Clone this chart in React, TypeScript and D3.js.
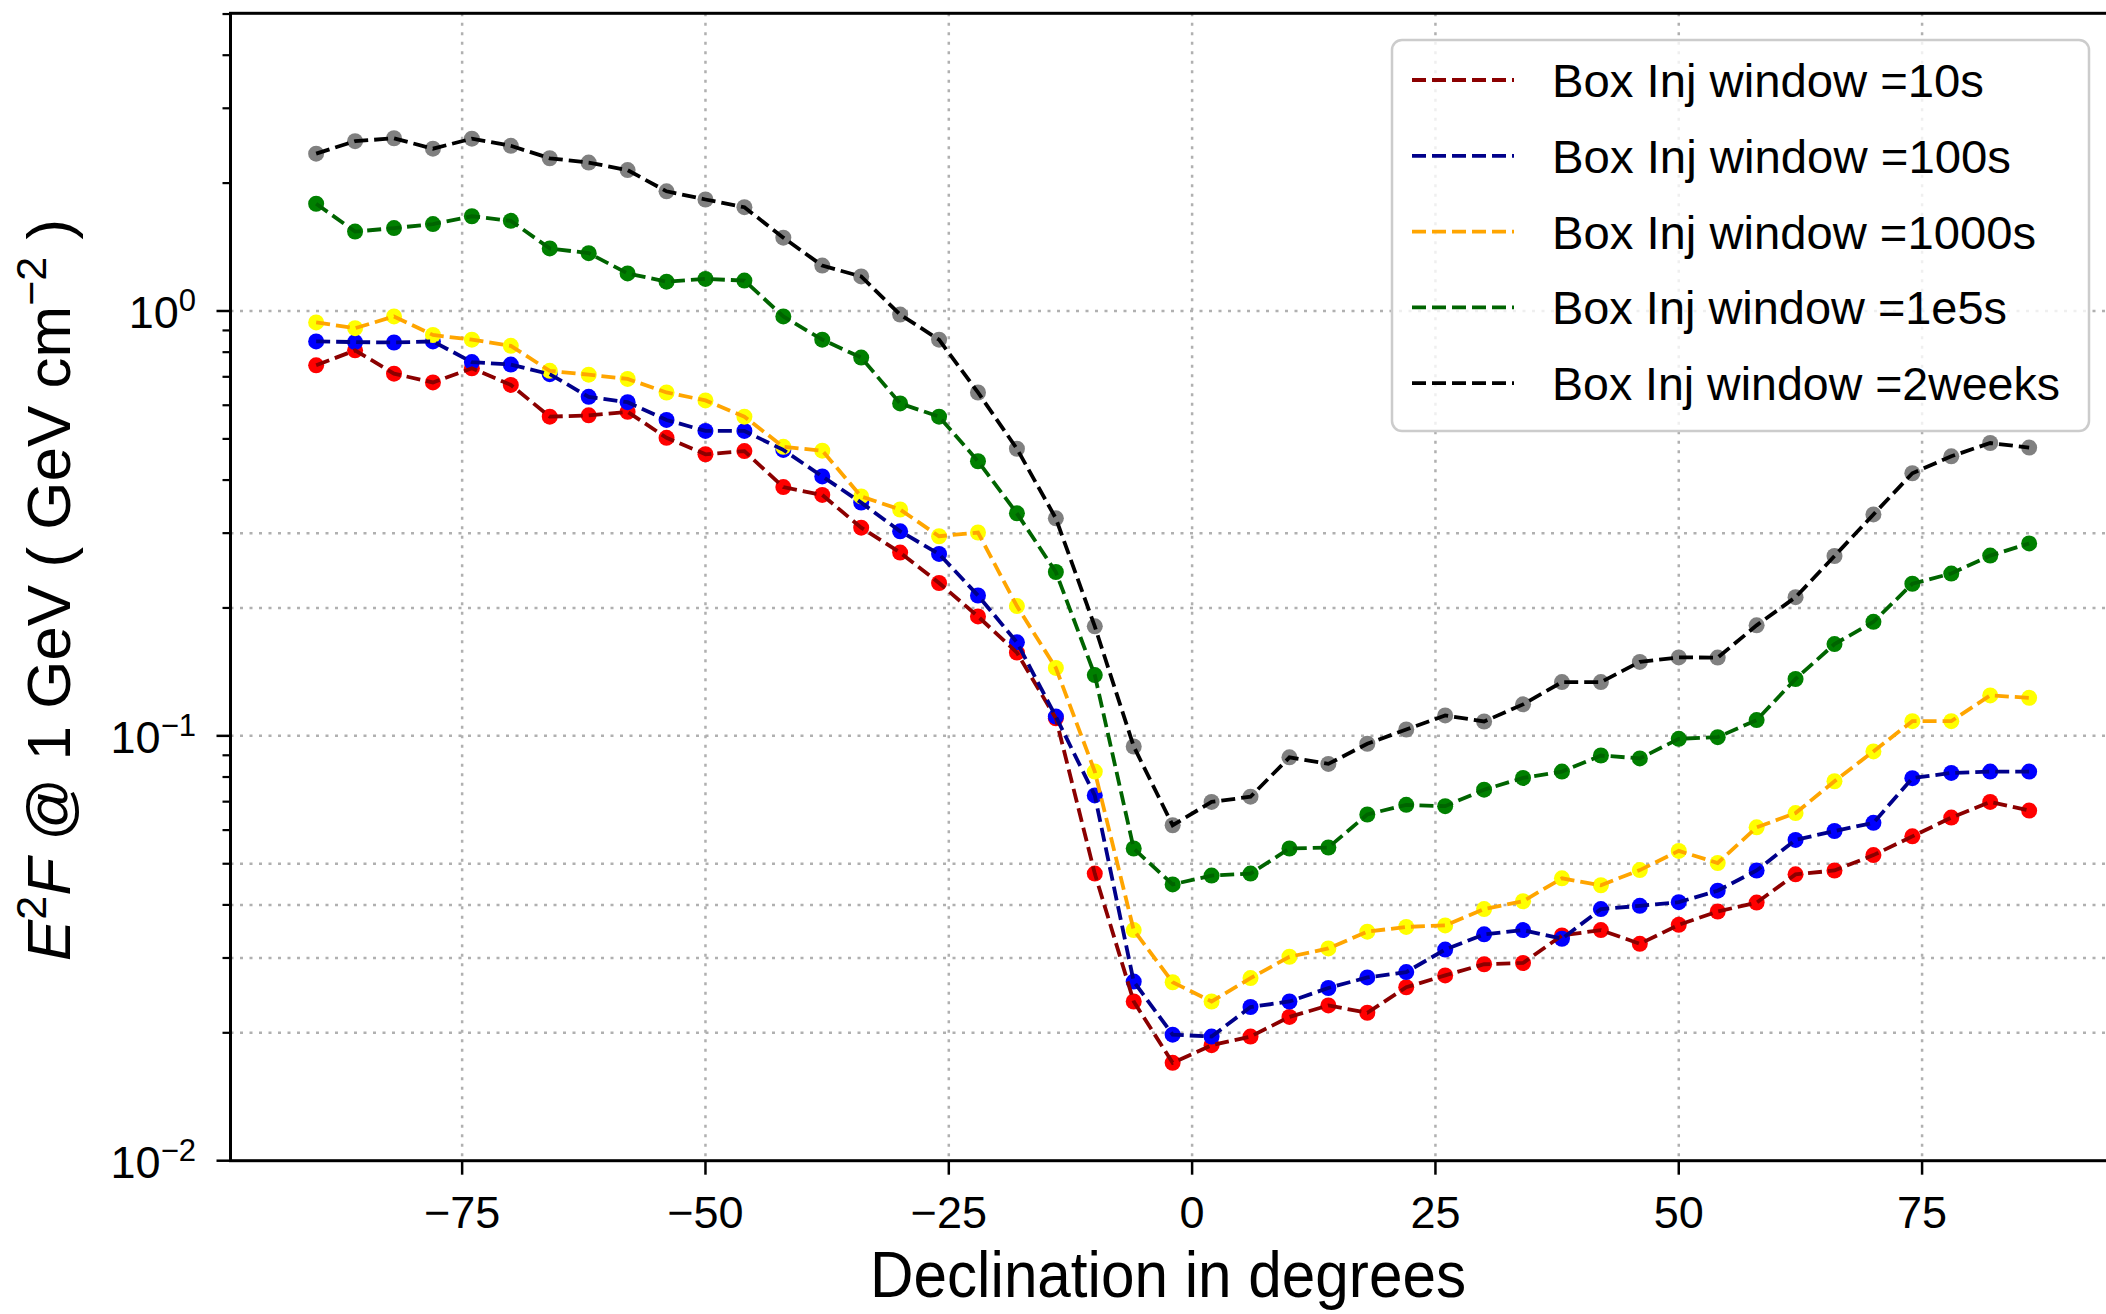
import React from 'react';
import * as d3 from 'd3';

const declination = [-90, -86, -82, -78, -74, -70, -66, -62, -58, -54, -50, -46, -42, -38, -34, -30, -26, -22, -18, -14, -10, -6, -2, 2, 6, 10, 14, 18, 22, 26, 30, 34, 38, 42, 46, 50, 54, 58, 62, 66, 70, 74, 78, 82, 86];

const flux10s = [0.745, 0.808, 0.712, 0.679, 0.733, 0.670, 0.564, 0.568, 0.579, 0.503, 0.460, 0.468, 0.385, 0.369, 0.309, 0.270, 0.229, 0.191, 0.157, 0.110, 0.0474, 0.0237, 0.0170, 0.0187, 0.0196, 0.0218, 0.0232, 0.0223, 0.0256, 0.0273, 0.0290, 0.0292, 0.0339, 0.0349, 0.0324, 0.0359, 0.0386, 0.0405, 0.0472, 0.0482, 0.0524, 0.0580, 0.0642, 0.0699, 0.0667];
const flux100s = [0.848, 0.845, 0.843, 0.848, 0.758, 0.748, 0.710, 0.628, 0.610, 0.554, 0.522, 0.522, 0.471, 0.408, 0.354, 0.303, 0.268, 0.214, 0.166, 0.111, 0.0724, 0.0264, 0.0198, 0.0196, 0.0230, 0.0237, 0.0255, 0.0270, 0.0278, 0.0314, 0.0341, 0.0349, 0.0333, 0.0391, 0.0398, 0.0406, 0.0432, 0.0482, 0.0569, 0.0597, 0.0624, 0.0795, 0.0818, 0.0824, 0.0824];
const flux1000s = [0.940, 0.911, 0.971, 0.878, 0.856, 0.828, 0.723, 0.708, 0.692, 0.643, 0.616, 0.564, 0.479, 0.469, 0.366, 0.341, 0.295, 0.301, 0.202, 0.1445, 0.0824, 0.0349, 0.0263, 0.0237, 0.0269, 0.0302, 0.0316, 0.0346, 0.0355, 0.0358, 0.0391, 0.0408, 0.0462, 0.0445, 0.0483, 0.0536, 0.0502, 0.0609, 0.0658, 0.0782, 0.0919, 0.1083, 0.1083, 0.1245, 0.1229];
const flux1e5s = [1.788, 1.538, 1.567, 1.602, 1.671, 1.630, 1.404, 1.368, 1.226, 1.172, 1.190, 1.179, 0.971, 0.856, 0.777, 0.606, 0.564, 0.443, 0.334, 0.243, 0.139, 0.0543, 0.0447, 0.0469, 0.0474, 0.0543, 0.0546, 0.0653, 0.0688, 0.0683, 0.0747, 0.0796, 0.0824, 0.0899, 0.0885, 0.0984, 0.0993, 0.1089, 0.1361, 0.1644, 0.1855, 0.228, 0.241, 0.2656, 0.2837];
const flux2weeks = [2.346, 2.51, 2.55, 2.41, 2.545, 2.448, 2.288, 2.235, 2.146, 1.913, 1.83, 1.755, 1.488, 1.279, 1.206, 0.981, 0.856, 0.643, 0.474, 0.325, 0.181, 0.0944, 0.0616, 0.0699, 0.0719, 0.089, 0.0859, 0.0958, 0.1035, 0.1117, 0.1081, 0.1186, 0.1338, 0.1338, 0.1493, 0.153, 0.1528, 0.182, 0.212, 0.265, 0.332, 0.415, 0.455, 0.489, 0.477];

const seriesLabels = ['Box Inj window =10s', 'Box Inj window =100s', 'Box Inj window =1000s', 'Box Inj window =1e5s', 'Box Inj window =2weeks'];
const xTicks = [-75, -50, -25, 0, 25, 50, 75];
const yMajorTicks = [0.01, 0.1, 1];
const yMajorExponents = ['\u22122', '\u22121', '0'];
const yMinorTicks = [0.02, 0.03, 0.04, 0.05, 0.06, 0.07, 0.08, 0.09, 0.2, 0.3, 0.4, 0.5, 0.6, 0.7, 0.8, 0.9, 2, 3, 4, 5];
const yMinorGrid = [0.02, 0.03, 0.04, 0.05, 0.2, 0.3];

const series = [
  { values: flux10s, line: '#8b0000', marker: '#ff0000', label: seriesLabels[0], tl: 432 },
  { values: flux100s, line: '#00008b', marker: '#0000ff', label: seriesLabels[1], tl: 459 },
  { values: flux1000s, line: '#ffa500', marker: '#ffff00', label: seriesLabels[2], tl: 484 },
  { values: flux1e5s, line: '#006400', marker: '#008000', label: seriesLabels[3], tl: 455 },
  { values: flux2weeks, line: '#000000', marker: '#808080', label: seriesLabels[4], tl: 508 },
];

const W = 2106;
const H = 1314;
const L = 230.5;
const R = 2114.8;
const T = 13.3;
const B = 1160.7;
const FONT = '"Liberation Sans", Arial, sans-serif';

export default function App() {
  const x = d3.scaleLinear().domain([-98.8, 94.8]).range([L, R]);
  const y = d3.scaleLog().domain([0.01, 5.02]).range([B, T]);
  const line = d3.line<number>().x((_, i) => x(declination[i])).y((v) => y(v));
  const gridColor = '#b0b0b0';
  const legX = 1392, legY = 40, legW = 697, legH = 391;
  const rowY = (i: number) => 80 + i * 75.8;

  return (
    <svg width={W} height={H} style={{ position: 'absolute', left: 0, top: 0, display: 'block', background: '#fff' }} fontFamily={FONT}>
      <defs>
        <clipPath id="plotclip">
          <rect x={L} y={T} width={R - L} height={B - T} />
        </clipPath>
      </defs>
      <rect x={0} y={0} width={W} height={H} fill="#fff" />
      {/* grid */}
      <g stroke={gridColor} strokeWidth={2.5} strokeDasharray="3,6.5">
        {xTicks.map((t) => (
          <line key={'gx' + t} x1={x(t)} x2={x(t)} y1={T} y2={B} />
        ))}
        {[...yMajorTicks.slice(1), ...yMinorGrid].map((t) => (
          <line key={'gy' + t} x1={L} x2={R} y1={y(t)} y2={y(t)} />
        ))}
      </g>
      {/* markers */}
      <g clipPath="url(#plotclip)">
        {series.map((s, si) => (
          <g key={'m' + si} fill={s.marker}>
            {s.values.map((v, i) => (
              <circle key={i} cx={x(declination[i])} cy={y(v)} r={8} />
            ))}
          </g>
        ))}
        {series.map((s, si) => (
          <path key={'l' + si} d={line(s.values) || ''} fill="none" stroke={s.line} strokeWidth={3.8} strokeDasharray="14,6" />
        ))}
      </g>
      {/* spines */}
      <rect x={L} y={T} width={R - L} height={B - T} fill="none" stroke="#000" strokeWidth={3} />
      {/* x ticks */}
      {xTicks.map((t) => (
        <g key={'xt' + t}>
          <line x1={x(t)} x2={x(t)} y1={B} y2={B + 14} stroke="#000" strokeWidth={2.5} />
          <text x={x(t)} y={1228} textAnchor="middle" fontSize={45}>
            {t < 0 ? '\u2212' + Math.abs(t) : String(t)}
          </text>
        </g>
      ))}
      {/* y ticks */}
      {yMinorTicks.map((t) => (
        <line key={'ymt' + t} x1={L - 8} x2={L} y1={y(t)} y2={y(t)} stroke="#000" strokeWidth={2.2} />
      ))}
      {yMajorTicks.map((t, i) => (
        <g key={'yt' + t}>
          <line x1={L - 14} x2={L} y1={y(t)} y2={y(t)} stroke="#000" strokeWidth={2.5} />
          <text x={196} y={y(t) + 17} textAnchor="end" fontSize={45}>
            10
            <tspan dy={-17} fontSize={31}>{yMajorExponents[i]}</tspan>
          </text>
        </g>
      ))}
      {/* axis labels */}
      <text x={1168} y={1297} textAnchor="middle" fontSize={64} textLength={596} lengthAdjust="spacingAndGlyphs">
        Declination in degrees
      </text>
      <text transform="translate(70,590) rotate(-90)" textAnchor="middle" fontSize={62}>
        <tspan fontStyle="italic">E</tspan>
        <tspan dy={-24} fontSize={43}>2</tspan>
        <tspan dy={24} fontStyle="italic">F</tspan>
        <tspan>{' @ 1 GeV ( GeV cm'}</tspan>
        <tspan dy={-24} fontSize={43}>{'\u22122'}</tspan>
        <tspan dy={24}>{' )'}</tspan>
      </text>
      {/* legend */}
      <rect x={legX} y={legY} width={legW} height={legH} rx={10} ry={10} fill="#fff" fillOpacity={0.8} stroke="#cccccc" strokeWidth={2.5} />
      {series.map((s, i) => (
        <g key={'lg' + i}>
          <line x1={1412} x2={1514} y1={rowY(i)} y2={rowY(i)} stroke={s.line} strokeWidth={3.8} strokeDasharray="14,6" />
          <text x={1552} y={rowY(i) + 17} fontSize={46} textLength={s.tl} lengthAdjust="spacingAndGlyphs">
            {s.label}
          </text>
        </g>
      ))}
    </svg>
  );
}
